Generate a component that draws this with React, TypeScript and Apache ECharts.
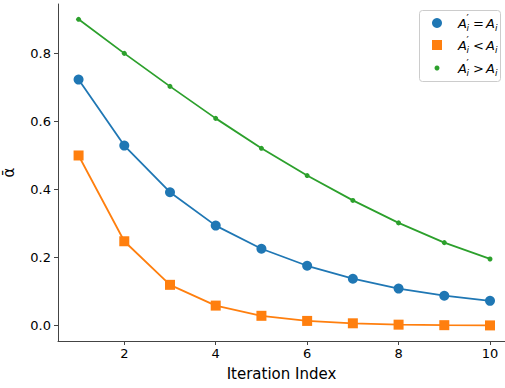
import React, { useEffect, useRef } from "react";
import * as echarts from "echarts";

const iterations = [1, 2, 3, 4, 5, 6, 7, 8, 9, 10];
const equalSeries = [0.723, 0.529, 0.392, 0.294, 0.226, 0.176, 0.138, 0.109, 0.088, 0.073];
const lessSeries = [0.5, 0.248, 0.12, 0.059, 0.029, 0.014, 0.007, 0.003, 0.0015, 0.0008];
const greaterSeries = [0.9, 0.8, 0.703, 0.609, 0.521, 0.441, 0.368, 0.302, 0.244, 0.196];
const xTicks = [2, 4, 6, 8, 10];
const yTicks = [0, 0.2, 0.4, 0.6, 0.8];
const legendOps = ["=", "<", ">"];

const FONT = "DejaVu Sans";
const BLUE = "#1f77b4";
const ORANGE = "#ff7f0e";
const GREEN = "#2ca02c";

export default function App() {
  const ref = useRef<HTMLDivElement>(null);
  useEffect(() => {
    if (!ref.current) return;
    const chart = echarts.init(ref.current, null, { renderer: "svg" });
    const pair = (vals: number[]) => iterations.map((x, i) => [x, vals[i]]);
    const legendRows = [23, 45, 68];
    const italic = { fontFamily: FONT, fontStyle: "italic", fill: "#000" };
    const labelGroup = (op: string, y: number) => ({
      type: "group",
      x: 458,
      y,
      z: 101,
      children: [
        { type: "text", x: 0, y: 0, z: 101, style: { ...italic, text: "A", fontSize: 13, verticalAlign: "middle" } },
        { type: "text", x: 8.5, y: -5, z: 101, style: { fontFamily: FONT, fill: "#000", text: "′", fontSize: 10, verticalAlign: "middle" } },
        { type: "text", x: 8.5, y: 5, z: 101, style: { ...italic, text: "i", fontSize: 9, verticalAlign: "middle" } },
        { type: "text", x: 15, y: 0, z: 101, style: { fontFamily: FONT, fill: "#000", text: op, fontSize: 13, verticalAlign: "middle" } },
        { type: "text", x: 28, y: 0, z: 101, style: { ...italic, text: "A", fontSize: 13, verticalAlign: "middle" } },
        { type: "text", x: 37, y: 5, z: 101, style: { ...italic, text: "i", fontSize: 9, verticalAlign: "middle" } },
      ],
    });
    chart.setOption({
      animation: false,
      backgroundColor: "#fff",
      grid: { left: 58, right: 0, top: 4, bottom: 47, containLabel: false, outerBoundsMode: "none" },
      xAxis: {
        type: "value",
        min: 0.55,
        max: 10.328,
        name: "Iteration Index",
        nameLocation: "middle",
        nameGap: 25,
        nameTextStyle: { fontFamily: FONT, fontSize: 15, color: "#000" },
        axisLine: { show: true, onZero: false, lineStyle: { color: "#444", width: 1 } },
        axisTick: { show: true, customValues: xTicks, length: 4, lineStyle: { color: "#444" } },
        axisLabel: { customValues: xTicks, fontFamily: FONT, fontSize: 13, color: "#000", margin: 6 },
        splitLine: { show: false },
      },
      yAxis: {
        type: "value",
        min: -0.045,
        max: 0.945,
        name: "ᾱ",
        nameLocation: "middle",
        nameRotate: 90,
        nameGap: 42,
        nameTextStyle: { fontFamily: FONT, fontSize: 15, color: "#000" },
        axisLine: { show: true, onZero: false, lineStyle: { color: "#444", width: 1 } },
        axisTick: { show: true, customValues: yTicks, length: 4, lineStyle: { color: "#444" } },
        axisLabel: {
          customValues: yTicks,
          fontFamily: FONT,
          fontSize: 13,
          color: "#000",
          margin: 7,
          formatter: (v: number) => v.toFixed(1),
        },
        splitLine: { show: false },
      },
      series: [
        {
          type: "line",
          name: "eq",
          data: pair(equalSeries),
          symbol: "circle",
          symbolSize: 10,
          itemStyle: { color: BLUE },
          lineStyle: { color: BLUE, width: 1.8 },
        },
        {
          type: "line",
          name: "lt",
          data: pair(lessSeries),
          symbol: "rect",
          symbolSize: 10,
          itemStyle: { color: ORANGE },
          lineStyle: { color: ORANGE, width: 1.8 },
        },
        {
          type: "line",
          name: "gt",
          data: pair(greaterSeries),
          symbol: "circle",
          symbolSize: 5,
          itemStyle: { color: GREEN },
          lineStyle: { color: GREEN, width: 1.8 },
        },
      ],
      graphic: [
        {
          type: "rect",
          shape: { x: 419.5, y: 10.5, width: 81, height: 71, r: 3 },
          style: { fill: "rgba(255,255,255,0.8)", stroke: "#cccccc", lineWidth: 1 },
          z: 100,
        },
        { type: "circle", shape: { cx: 437, cy: legendRows[0], r: 5 }, style: { fill: BLUE }, z: 101 },
        { type: "rect", shape: { x: 432, y: legendRows[1] - 5, width: 10, height: 10 }, style: { fill: ORANGE }, z: 101 },
        { type: "circle", shape: { cx: 437, cy: legendRows[2], r: 2.5 }, style: { fill: GREEN }, z: 101 },
        ...legendOps.map((op, k) => labelGroup(op, legendRows[k])),
      ],
    });
    return () => chart.dispose();
  }, []);
  return <div ref={ref} style={{ position: "absolute", left: 0, top: 0, width: 505, height: 388 }} />;
}
